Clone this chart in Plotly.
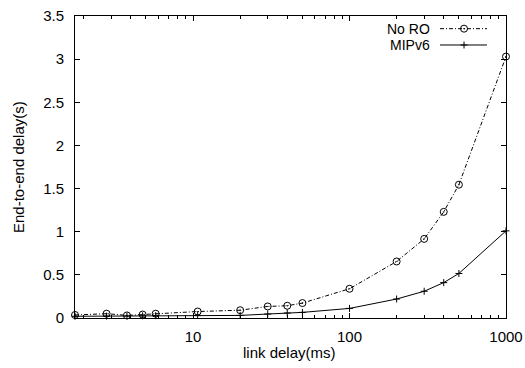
import math
import plotly.graph_objects as go

link_delay = [1.76, 2.8, 3.78, 4.76, 5.77, 10.7, 20, 30, 40, 50, 100, 200, 300, 400, 500, 1000]
no_ro = [0.035, 0.05, 0.03, 0.04, 0.05, 0.075, 0.09, 0.134, 0.142, 0.173, 0.339, 0.655, 0.917, 1.23, 1.545, 3.03]
mipv6 = [0.02, 0.022, 0.022, 0.025, 0.027, 0.03, 0.03, 0.046, 0.058, 0.065, 0.111, 0.22, 0.31, 0.41, 0.516, 1.01]

series_names = ["No RO", "MIPv6"]
y_ticks = [0, 0.5, 1, 1.5, 2, 2.5, 3, 3.5]
x_ticks = [10, 100, 1000]
x_minor = [k * d for d in (1, 10, 100) for k in range(2, 10)]

FONT = "Liberation Sans, Arial, Helvetica, sans-serif"
NORO_DASH = "4px,2px,1px,2px"

fig = go.Figure()
fig.add_trace(go.Scatter(
    x=link_delay, y=no_ro, mode="lines+markers", name=series_names[0],
    line=dict(color="black", width=1, dash=NORO_DASH),
    marker=dict(symbol="circle-open-dot", size=7, color="black", line=dict(width=1, color="black")),
    showlegend=False, cliponaxis=False))
fig.add_trace(go.Scatter(
    x=link_delay, y=mipv6, mode="lines+markers", name=series_names[1],
    line=dict(color="black", width=1),
    marker=dict(symbol="cross-thin-open", size=5, color="black", line=dict(width=1, color="black")),
    showlegend=False, cliponaxis=False))

# legend samples drawn gnuplot-style (text right, sample line left->right)
leg_x0, leg_x1, leg_xm, leg_tx = 0.8469, 0.9559, 0.9026, 0.8283
leg_rows = [0.9580, 0.9040]
fig.add_trace(go.Scatter(x=[leg_x0, leg_x1], y=[leg_rows[0]] * 2, mode="lines",
                         line=dict(color="black", width=1, dash=NORO_DASH),
                         xaxis="x2", yaxis="y2", showlegend=False, hoverinfo="skip"))
fig.add_trace(go.Scatter(x=[leg_xm], y=[leg_rows[0]], mode="markers",
                         marker=dict(symbol="circle-open-dot", size=7, color="black", line=dict(width=1, color="black")),
                         xaxis="x2", yaxis="y2", showlegend=False, hoverinfo="skip"))
fig.add_trace(go.Scatter(x=[leg_x0, leg_x1], y=[leg_rows[1]] * 2, mode="lines",
                         line=dict(color="black", width=1),
                         xaxis="x2", yaxis="y2", showlegend=False, hoverinfo="skip"))
fig.add_trace(go.Scatter(x=[leg_xm], y=[leg_rows[1]], mode="markers",
                         marker=dict(symbol="cross-thin-open", size=5, color="black", line=dict(width=1, color="black")),
                         xaxis="x2", yaxis="y2", showlegend=False, hoverinfo="skip"))

annotations = []
for name, yy in zip(series_names, leg_rows):
    annotations.append(dict(x=leg_tx, y=yy, xref="paper", yref="paper", text=name,
                            showarrow=False, xanchor="right", yanchor="middle",
                            font=dict(family=FONT, size=14, color="black")))
annotations.append(dict(x=0.4988, y=-0.1126, xref="paper", yref="paper", text="link delay(ms)",
                        showarrow=False, xanchor="center", yanchor="middle",
                        font=dict(family=FONT, size=15, color="black")))
annotations.append(dict(x=-0.1323, y=0.5, xref="paper", yref="paper", text="End-to-end delay(s)",
                        showarrow=False, xanchor="center", yanchor="middle", textangle=-90,
                        font=dict(family=FONT, size=15, color="black")))

fig.update_layout(
    width=525, height=368,
    margin=dict(l=75, r=19, t=16, b=50),
    paper_bgcolor="white", plot_bgcolor="white",
    font=dict(family=FONT, size=15, color="black"),
    annotations=annotations,
    xaxis=dict(
        type="log", range=[math.log10(link_delay[0]), 3], automargin=False,
        tickvals=x_ticks, ticktext=[str(v) for v in x_ticks],
        ticks="inside", ticklen=5, tickwidth=1, tickcolor="black",
        minor=dict(tickvals=x_minor, ticks="inside", ticklen=3, tickwidth=1, tickcolor="black", showgrid=False),
        showline=True, linecolor="black", linewidth=1, mirror="ticks",
        showgrid=False, zeroline=False, ticklabelstandoff=5,
        tickfont=dict(family=FONT, size=15),
    ),
    yaxis=dict(
        range=[0, 3.5], tickvals=y_ticks, ticktext=[f"{v:g}" for v in y_ticks], automargin=False,
        ticks="inside", ticklen=5, tickwidth=1, tickcolor="black",
        showline=True, linecolor="black", linewidth=1, mirror="ticks",
        showgrid=False, zeroline=False, ticklabelstandoff=7,
        tickfont=dict(family=FONT, size=15),
    ),
    xaxis2=dict(overlaying="x", range=[0, 1], visible=False, fixedrange=True, automargin=False),
    yaxis2=dict(overlaying="y", range=[0, 1], visible=False, fixedrange=True, automargin=False),
)

fig.write_html("out.html")
